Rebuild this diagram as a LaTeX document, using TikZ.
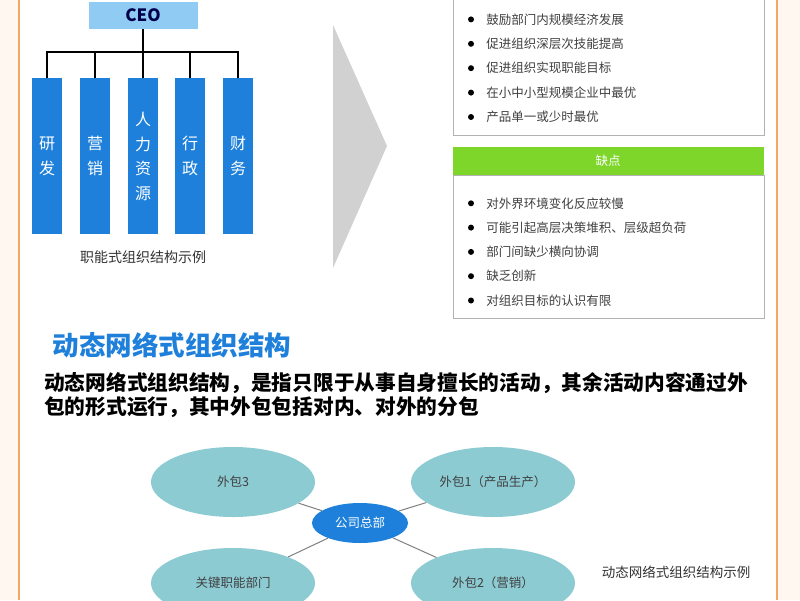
\documentclass[tikz,border=0pt]{standalone}
\usepackage{fontspec}
\setmainfont{Noto Sans CJK SC}
\usetikzlibrary{positioning,shapes.geometric}
\definecolor{deptblue}{HTML}{1E80DA}
\definecolor{ceoblue}{HTML}{8FCBF2}
\definecolor{hubteal}{HTML}{8DCBD3}
\definecolor{conGreen}{HTML}{7ED62A}
\definecolor{edgeOrange}{HTML}{F0A862}
\begin{document}
\begin{tikzpicture}[x=1pt,y=-1pt]
	\tikzstyle{dept}=[rectangle, fill=deptblue, minimum width=30pt, minimum height=156pt, anchor=north, text=white, font=\fontsize{16}{25}\selectfont, align=center, inner sep=0pt]
	\tikzstyle{connect}=[line width=2pt, black]
	\tikzstyle{item}=[anchor=west, font=\fontsize{12.5}{14}\selectfont, text=black!75, inner sep=0pt]
	\tikzstyle{dot}=[circle, fill=black, inner sep=0pt, minimum size=6pt]
	\tikzstyle{panel}=[draw=black!30, line width=1pt]
	\tikzstyle{outer}=[ellipse, fill=hubteal, minimum width=164pt, minimum height=70pt, font=\fontsize{12.5}{14}\selectfont, text=black!75]
	\tikzstyle{link}=[draw=black!50, line width=1pt]
	% background and margins
	\useasboundingbox (0,0) rectangle (800,600);
	\fill[white] (0,0) rectangle (800,600);
	\fill[orange!6] (0,0) rectangle (19,600);
	\fill[orange!6] (777,0) rectangle (800,600);
	\draw[edgeOrange, line width=1.5pt] (19,0) -- (19,600);
	\draw[edgeOrange, line width=1.5pt] (777,0) -- (777,600);
	% functional chart
	\node[rectangle, fill=ceoblue, minimum width=109pt, minimum height=27pt, font=\bfseries\fontsize{17}{17}\selectfont, text=blue!30!black] (ceo) at (143,15.5) {CEO};
	\node[dept] (rd) at (47,78) {研\\发};
	\node[dept] (sales) at (95,78) {营\\销};
	\node[dept, font=\fontsize{16}{24.5}\selectfont] (hr) at (143,78) {人\\力\\资\\源};
	\node[dept] (admin) at (190,78) {行\\政};
	\node[dept] (fin) at (238,78) {财\\务};
	\coordinate (bus) at (143,52);
	\draw[connect] (ceo.south) -- (hr.north);
	\draw[connect] (rd.north) |- (bus) -| (fin.north);
	\draw[connect] (sales.north) -- (sales.north |- bus);
	\draw[connect] (admin.north) -- (admin.north |- bus);
	\node[font=\fontsize{14}{14}\selectfont, text=black!80] (cap1) at (143,257) {职能式组织结构示例};
	% arrow
	\fill[black!18] (333,25) -- (387,146) -- (333,268) -- cycle;
	% pros and cons
	\draw[panel] (453,-2) rectangle (764,135);
	\foreach \t [count=\i] in {鼓励部门内规模经济发展, 促进组织深层次技能提高, 促进组织实现职能目标, 在小中小型规模企业中最优, 产品单一或少时最优} {
		\node[dot] (pd\i) at (471,-5+24.4*\i) {};
		\node[item, right=12pt of pd\i] (pro\i) {\t};
	}
	\fill[conGreen] (453,147) rectangle (764,175);
	\node[text=white, font=\fontsize{12.5}{14}\selectfont] (con) at (608,161) {缺点};
	\draw[panel] (453,175) rectangle (764,318);
	\foreach \t [count=\i] in {对外界环境变化反应较慢, 可能引起高层决策堆积、层级超负荷, 部门间缺少横向协调, 缺乏创新, 对组织目标的认识有限} {
		\node[dot] (cd\i) at (471,179+24.3*\i) {};
		\node[item, right=12pt of cd\i] (cons\i) {\t};
	}
	% network structure
	\node[anchor=west, text=deptblue, font=\bfseries\fontsize{26.5}{26.5}\selectfont] (title) at (49,345) {动态网络式组织结构};
	\node[anchor=north west, align=left, font=\bfseries\fontsize{20.7}{24}\selectfont, inner sep=0pt] (desc) at (44,372) {动态网络式组织结构，是指只限于从事自身擅长的活动，其余活动内容通过外\\包的形式运行，其中外包包括对内、对外的分包};
	\node[outer] (out3) at (233,482) {外包3};
	\node[outer] (out1) at (493,482) {外包1（产品生产）};
	\node[outer] (key) at (233,583) {关键职能部门};
	\node[outer] (out2) at (493,583) {外包2（营销）};
	\node[ellipse, fill=deptblue, minimum width=96pt, minimum height=40pt, text=white, font=\fontsize{12.5}{14}\selectfont] (hq) at (360,523) {公司总部};
	\path (hq) edge [link] (out3)
	(hq) edge [link] (out1)
	(hq) edge [link] (key)
	(hq) edge [link] (out2);
	\node[font=\fontsize{13.5}{14}\selectfont, text=black!80] (cap2) at (676,572) {动态网络式组织结构示例};
\end{tikzpicture}
\end{document}
